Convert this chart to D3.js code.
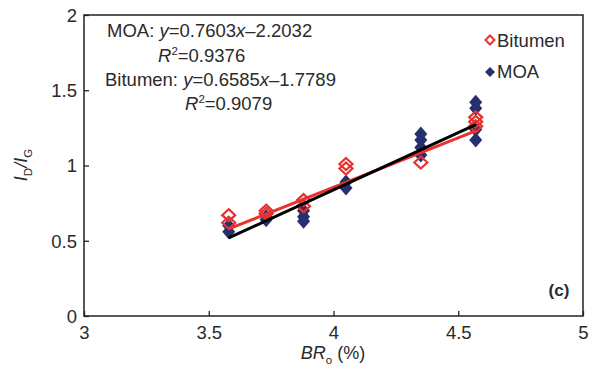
<!DOCTYPE html>
<html><head><meta charset="utf-8">
<script src="https://cdn.jsdelivr.net/npm/d3@7"></script>
<style>body{margin:0;background:#fff}svg{display:block;font-family:"Liberation Sans",Arial,sans-serif}</style>
</head><body><svg id="c" width="591" height="369"></svg>
<script>
const xTicks = [3, 3.5, 4, 4.5, 5];
const yTicks = [0, 0.5, 1, 1.5, 2];
const xTickLabels = ["3", "3.5", "4", "4.5", "5"];
const yTickLabels = ["0", "0.5", "1", "1.5", "2"];
const bitumenX = [3.58, 3.58, 3.73, 3.73, 3.88, 3.88, 4.05, 4.05, 4.35, 4.57, 4.57, 4.57];
const bitumenY = [0.67, 0.62, 0.70, 0.68, 0.77, 0.73, 1.01, 0.98, 1.02, 1.32, 1.29, 1.26];
const moaX = [3.58, 3.58, 3.73, 3.73, 3.88, 3.88, 3.88, 4.05, 4.05, 4.35, 4.35, 4.35, 4.35, 4.57, 4.57, 4.57, 4.57];
const moaY = [0.60, 0.56, 0.66, 0.64, 0.70, 0.66, 0.63, 0.89, 0.85, 1.21, 1.17, 1.12, 1.07, 1.42, 1.38, 1.24, 1.17];
const fitNames = ["Bitumen", "MOA"];
const fitSlope = [0.6585, 0.7603];
const fitIntercept = [-1.7789, -2.2032];
const fitRange = [3.58, 4.57];

const svg = d3.select("#c");
const x = d3.scaleLinear().domain([3, 5]).range([84, 583]);
const y = d3.scaleLinear().domain([0, 2]).range([316, 15]);
const RED = "#e8322f", NAVY = "#27306e", INK = "#2a2a2a";

svg.append("rect").attr("x", 84).attr("y", 15).attr("width", 499).attr("height", 301)
  .attr("fill", "none").attr("stroke", "#222").attr("stroke-width", 1.5);

const xAxis = svg.append("g").attr("transform", "translate(0,316)")
  .call(d3.axisBottom(x).tickValues(xTicks).tickSize(-5).tickFormat((d, i) => xTickLabels[i]));
const yAxis = svg.append("g").attr("transform", "translate(84,0)")
  .call(d3.axisLeft(y).tickValues(yTicks).tickSize(-5).tickFormat((d, i) => yTickLabels[i]));
[xAxis, yAxis].forEach(a => {
  a.select(".domain").remove();
  a.selectAll(".tick line").attr("stroke", "#222").attr("stroke-width", 1.3);
  a.selectAll("text").attr("font-size", 18.5).attr("fill", INK).attr("font-family", "Liberation Sans, Arial, sans-serif");
});
xAxis.selectAll("text").attr("dy", null).attr("y", 23);
yAxis.selectAll("text").attr("x", -7).attr("dy", "0.35em");

const diamond = (w, h) => `M0,${-h/2}L${w/2},0L0,${h/2}L${-w/2},0Z`;

svg.append("g").selectAll("path").data(moaX).join("path")
  .attr("d", diamond(13, 15))
  .attr("transform", (d, i) => `translate(${x(d)},${y(moaY[i])})`)
  .attr("fill", NAVY);
svg.append("g").selectAll("path").data(bitumenX).join("path")
  .attr("d", diamond(13, 12))
  .attr("transform", (d, i) => `translate(${x(d)},${y(bitumenY[i])})`)
  .attr("fill", "none").attr("stroke", RED).attr("stroke-width", 2.2);

const fitColors = [RED, "#000"];
fitNames.forEach((n, k) => {
  svg.append("line")
    .attr("x1", x(fitRange[0])).attr("y1", y(fitSlope[k] * fitRange[0] + fitIntercept[k]))
    .attr("x2", x(fitRange[1])).attr("y2", y(fitSlope[k] * fitRange[1] + fitIntercept[k]))
    .attr("stroke", fitColors[k]).attr("stroke-width", 3);
});

const FS = 18.5;
function eq(xp, yp, name, s, b) {
  const t = svg.append("text").attr("x", xp).attr("y", yp).attr("font-size", FS).attr("fill", INK);
  t.append("tspan").text(name + ": ");
  t.append("tspan").attr("font-style", "italic").text("y");
  t.append("tspan").text("=" + s.toFixed(4));
  t.append("tspan").attr("font-style", "italic").text("x");
  t.append("tspan").text("\u2013" + Math.abs(b).toFixed(4));
}
function r2(xp, yp, v) {
  const t = svg.append("text").attr("x", xp).attr("y", yp).attr("font-size", FS).attr("fill", INK);
  t.append("tspan").attr("font-style", "italic").text("R");
  t.append("tspan").attr("font-size", 11.5).attr("dy", -7).text("2");
  t.append("tspan").attr("dy", 7).text("=" + v);
}
eq(107, 37, "MOA", fitSlope[1], fitIntercept[1]);
r2(158, 62, "0.9376");
eq(105, 86, "Bitumen", fitSlope[0], fitIntercept[0]);
r2(185, 110, "0.9079");

svg.append("path").attr("d", diamond(9, 9)).attr("transform", "translate(490,40)")
  .attr("fill", "none").attr("stroke", RED).attr("stroke-width", 2);
svg.append("text").attr("x", 497).attr("y", 47).attr("font-size", FS).attr("fill", INK).text("Bitumen");
svg.append("path").attr("d", diamond(10, 10)).attr("transform", "translate(490,72)").attr("fill", NAVY);
svg.append("text").attr("x", 497).attr("y", 78).attr("font-size", FS).attr("fill", INK).text("MOA");

svg.append("text").attr("x", 559).attr("y", 296).attr("text-anchor", "middle").attr("font-size", 17).attr("font-weight", "bold").attr("fill", INK).text("(c)");

const xt = svg.append("text").attr("x", 333).attr("y", 359).attr("text-anchor", "middle").attr("font-size", 18).attr("fill", INK);
xt.append("tspan").attr("font-style", "italic").text("BR");
xt.append("tspan").attr("font-size", 11.5).attr("dy", 5).text("o");
xt.append("tspan").attr("dy", -5).text(" (%)");

const yt = svg.append("text").attr("transform", "translate(27,165) rotate(-90)").attr("text-anchor", "middle").attr("font-size", 18).attr("fill", INK);
yt.append("tspan").attr("font-style", "italic").text("I");
yt.append("tspan").attr("font-size", 11.5).attr("dy", 5).text("D");
yt.append("tspan").attr("dy", -5).attr("font-style", "italic").text("/I");
yt.append("tspan").attr("font-size", 11.5).attr("dy", 5).text("G");
</script></body></html>
